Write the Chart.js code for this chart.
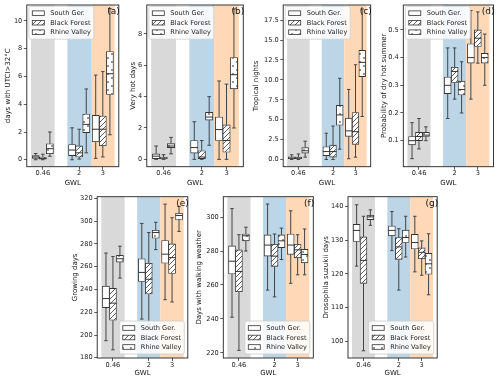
<!DOCTYPE html>
<html><head><meta charset="utf-8">
<script src="https://cdn.jsdelivr.net/npm/chart.js@4/dist/chart.umd.min.js"></script>
<style>
html,body{margin:0;padding:0;background:#fff;}
#wrap{position:relative;width:500px;height:382px;overflow:hidden;background:#fff;}
#wrap canvas{position:absolute;}
</style></head><body><div id="wrap"></div>
<script>
// ---------- data ----------
const gwl = [0.46, 2, 3];
const gwlLabels = ["0.46", "2", "3"];
const seriesNames = ["South Ger.", "Black Forest", "Rhine Valley"];
// each row: [lower whisker, Q1, median, Q3, upper whisker] at GWL 0.46, 2, 3
const utciSouth = [[0, 0.1, 0.2, 0.3, 0.45], [0, 0.3, 0.7, 1.1, 2.3], [0.1, 1.3, 2.2, 3.2, 6.1]];
const utciBlack = [[0, 0.05, 0.1, 0.2, 0.4], [0.05, 0.2, 0.5, 1.0, 2.2], [0.2, 1.0, 2.2, 3.15, 6.35]];
const utciRhine = [[0.25, 0.43, 0.8, 1.15, 2.0], [0.5, 1.95, 2.55, 3.3, 5.1], [1.8, 4.7, 6.2, 7.8, 10.9]];

const hotSouth = [[0, 0.05, 0.2, 0.35, 0.85], [0, 0.4, 0.75, 1.2, 2.4], [0, 1.2, 1.9, 2.7, 5.0]];
const hotBlack = [[0, 0.02, 0.08, 0.15, 0.3], [0, 0.05, 0.15, 0.55, 1.2], [0, 0.45, 1.2, 2.2, 4.8]];
const hotRhine = [[0.35, 0.75, 0.85, 1.0, 1.4], [0.9, 2.5, 2.7, 3.0, 4.0], [2.0, 4.5, 5.4, 6.5, 9.6]];

const tropSouth = [[0, 0.1, 0.2, 0.35, 0.6], [0, 0.5, 1.0, 1.6, 3.3], [0.1, 2.9, 3.6, 5.2, 8.8]];
const tropBlack = [[0, 0.1, 0.2, 0.3, 0.7], [0, 0.3, 1.0, 1.8, 4.2], [0.3, 1.9, 3.5, 5.9, 11.9]];
const tropRhine = [[0.3, 0.8, 1.1, 1.5, 2.3], [1.3, 4.3, 5.6, 6.8, 10.2], [5.4, 10.4, 12.2, 13.7, 18.9]];

const dryhotSouth = [[0.035, 0.085, 0.1, 0.115, 0.165], [0.18, 0.27, 0.30, 0.33, 0.435], [0.25, 0.38, 0.40, 0.45, 0.57]];
const dryhotBlack = [[0.07, 0.1, 0.115, 0.13, 0.18], [0.25, 0.31, 0.35, 0.365, 0.435], [0.38, 0.44, 0.47, 0.50, 0.565]];
const dryhotRhine = [[0.1, 0.115, 0.12, 0.13, 0.15], [0.2, 0.265, 0.285, 0.315, 0.385], [0.30, 0.38, 0.40, 0.415, 0.485]];

const growSouth = [[195, 224, 232, 243, 272], [214, 247, 255, 267, 298], [231, 263, 271, 283, 315]];
const growBlack = [[187, 213, 228, 241, 269], [209, 236, 249, 263, 290], [229, 254, 268, 280, 303]];
const growRhine = [[250, 264, 267, 270, 278], [275, 285, 290, 292, 299], [291, 301, 305, 307, 313]];

const walkSouth = [[241, 266.5, 274, 283, 305], [257, 277, 283.5, 289.5, 307.7], [261, 278, 283.5, 290, 303.7]];
const walkBlack = [[221.5, 256, 268, 280.7, 289.6], [253, 271, 277, 284, 290], [266, 276, 280.7, 284, 289.6]];
const walkRhine = [[280, 286, 289, 290, 294], [275, 282, 286, 289.5, 293.5], [266, 273, 278, 281, 293]];

const drosoSouth = [[122.3, 129.6, 132.9, 134.7, 140.5], [126.9, 131.3, 132.9, 134.2, 138.5], [120.6, 127.4, 129.3, 131.7, 137.1]];
const drosoBlack = [[97.2, 117.2, 124, 131, 137.1], [115.2, 124.3, 128, 130.8, 133.4], [119.6, 124.5, 126.4, 127.7, 129.8]];
const drosoRhine = [[134.4, 136.1, 136.9, 137.4, 139], [125, 129.3, 130.8, 133, 137.1], [113.8, 119.9, 123, 126.1, 131.9]];

const yTicksA = [0, 2, 4, 6, 8, 10];           const yLabelsA = ["0", "2", "4", "6", "8", "10"];
const yTicksB = [0, 2, 4, 6, 8];               const yLabelsB = ["0", "2", "4", "6", "8"];
const yTicksC = [0, 2.5, 5, 7.5, 10, 12.5, 15, 17.5]; const yLabelsC = ["0.0", "2.5", "5.0", "7.5", "10.0", "12.5", "15.0", "17.5"];
const yTicksD = [0.1, 0.2, 0.3, 0.4, 0.5];     const yLabelsD = ["0.1", "0.2", "0.3", "0.4", "0.5"];
const yTicksE = [180, 200, 220, 240, 260, 280, 300, 320]; const yLabelsE = ["180", "200", "220", "240", "260", "280", "300", "320"];
const yTicksF = [220, 240, 260, 280, 300];     const yLabelsF = ["220", "240", "260", "280", "300"];
const yTicksG = [100, 110, 120, 130, 140];     const yLabelsG = ["100", "110", "120", "130", "140"];

// ---------- layout / style ----------
const XMIN = -0.217, XMAX = 3.677;
const OFFS = [-0.3, 0, 0.3], BOXW = 0.3;
const bandColors = ["#d9d9d9", "#bcd6e8", "#ffd9b7"];
const FONT = '"DejaVu Sans", sans-serif';
const rows = [
  {top: 0, height: 192, padTop: 5, xAxisH: 25.3},
  {top: 190, height: 192, padTop: 6.7, xAxisH: 24}
];
const panels = [
  {lab: "(a)", title: "days with UTCI>32°C", s: [utciSouth, utciBlack, utciRhine], yMin: -0.5, yMax: 11.15, ticks: yTicksA, labels: yLabelsA, row: 0, tx: 7.5, fl: 26.3, fr: 118.3, legend: "tl"},
  {lab: "(b)", title: "Very hot days", s: [hotSouth, hotBlack, hotRhine], yMin: -0.47, yMax: 9.85, ticks: yTicksB, labels: yLabelsB, row: 0, tx: 133, fl: 146.8, fr: 243.3, legend: "tl"},
  {lab: "(c)", title: "Tropical nights", s: [tropSouth, tropBlack, tropRhine], yMin: -0.9, yMax: 19.4, ticks: yTicksC, labels: yLabelsC, row: 0, tx: 256, fl: 283.2, fr: 370.7, legend: "tl"},
  {lab: "(d)", title: "Probability of dry hot summer", s: [dryhotSouth, dryhotBlack, dryhotRhine], yMin: 0.006, yMax: 0.59, ticks: yTicksD, labels: yLabelsD, row: 0, tx: 384, fl: 403.3, fr: 493.5, legend: "tl"},
  {lab: "(e)", title: "Growing days", s: [growSouth, growBlack, growRhine], yMin: 179.8, yMax: 321.5, ticks: yTicksE, labels: yLabelsE, row: 1, tx: 74.5, fl: 96.7, fr: 187.3, legend: "br"},
  {lab: "(f)", title: "Days with walking weather", s: [walkSouth, walkBlack, walkRhine], yMin: 217, yMax: 312, ticks: yTicksF, labels: yLabelsF, row: 1, tx: 199, fl: 223.3, fr: 313.3, legend: "br"},
  {lab: "(g)", title: "Drosophila suzukii days", s: [drosoSouth, drosoBlack, drosoRhine], yMin: 95.05, yMax: 142.9, ticks: yTicksG, labels: yLabelsG, row: 1, tx: 325.5, fl: 347.5, fr: 436.7, legend: "br"}
];

// ---------- fills ----------
function hatchPattern() {
  const c = document.createElement('canvas'); c.width = 5; c.height = 5;
  const g = c.getContext('2d');
  g.fillStyle = '#fff'; g.fillRect(0, 0, 5, 5);
  g.strokeStyle = '#3a3a3a'; g.lineWidth = 0.8;
  g.beginPath();
  g.moveTo(-1, 6); g.lineTo(6, -1);
  g.moveTo(-1, 1); g.lineTo(1, -1);
  g.moveTo(4, 6); g.lineTo(6, 4);
  g.stroke();
  return g.createPattern(c, 'repeat');
}
function dotPattern() {
  const c = document.createElement('canvas'); c.width = 8; c.height = 8;
  const g = c.getContext('2d');
  g.fillStyle = '#fff'; g.fillRect(0, 0, 8, 8);
  g.fillStyle = '#111';
  g.beginPath(); g.arc(2, 2, 0.8, 0, Math.PI * 2); g.fill();
  g.beginPath(); g.arc(6, 6, 0.8, 0, Math.PI * 2); g.fill();
  return g.createPattern(c, 'repeat');
}
const fills = ['#ffffff', hatchPattern(), dotPattern()];

function roundRect(ctx, x, y, w, h, r) {
  ctx.beginPath();
  ctx.moveTo(x + r, y); ctx.lineTo(x + w - r, y); ctx.arcTo(x + w, y, x + w, y + r, r);
  ctx.lineTo(x + w, y + h - r); ctx.arcTo(x + w, y + h, x + w - r, y + h, r);
  ctx.lineTo(x + r, y + h); ctx.arcTo(x, y + h, x, y + h - r, r);
  ctx.lineTo(x, y + r); ctx.arcTo(x, y, x + r, y, r); ctx.closePath();
}

function decoPlugin(p) {
  return {
    id: 'deco',
    beforeDatasetsDraw(chart) {
      const {ctx, chartArea: a, scales: {x}} = chart;
      ctx.save();
      ctx.beginPath(); ctx.rect(a.left, a.top, a.right - a.left, a.bottom - a.top); ctx.clip();
      gwl.forEach((g, i) => {
        const x0 = x.getPixelForValue(g - 0.5), x1 = x.getPixelForValue(g + 0.5);
        ctx.fillStyle = bandColors[i];
        ctx.fillRect(x0, a.top, x1 - x0, a.bottom - a.top);
      });
      ctx.restore();
    },
    afterDatasetsDraw(chart) {
      const {ctx, chartArea: a, scales: {y}} = chart;
      ctx.save();
      ctx.beginPath(); ctx.rect(a.left, a.top, a.right - a.left, a.bottom - a.top); ctx.clip();
      chart.data.datasets.forEach((ds, di) => {
        const meta = chart.getDatasetMeta(di);
        meta.data.forEach((bar, i) => {
          const st = ds.stats[i];
          const {x: cx, width: bw} = bar.getProps(['x', 'width'], true);
          const hw = bw / 2, cw = bw / 4;
          const pl = y.getPixelForValue(st[0]), p1 = y.getPixelForValue(st[1]);
          const pm = y.getPixelForValue(st[2]), p3 = y.getPixelForValue(st[3]);
          const ph = y.getPixelForValue(st[4]);
          ctx.strokeStyle = '#444'; ctx.lineWidth = 1;
          ctx.beginPath();
          ctx.moveTo(cx, p1); ctx.lineTo(cx, pl);
          ctx.moveTo(cx, p3); ctx.lineTo(cx, ph);
          ctx.moveTo(cx - cw, pl); ctx.lineTo(cx + cw, pl);
          ctx.moveTo(cx - cw, ph); ctx.lineTo(cx + cw, ph);
          ctx.stroke();
          ctx.strokeStyle = '#333';
          ctx.beginPath(); ctx.moveTo(cx - hw, pm); ctx.lineTo(cx + hw, pm); ctx.stroke();
        });
      });
      ctx.restore();
      // frame
      ctx.save();
      ctx.strokeStyle = '#222'; ctx.lineWidth = 0.9;
      ctx.strokeRect(a.left, a.top, a.right - a.left, a.bottom - a.top);
      // legend
      const w = 65, h = 33;
      const lx = p.legend === 'tl' ? a.left + 2 : a.right - 3.5 - w;
      const ly = p.legend === 'tl' ? a.top + 1.2 : a.bottom - 4 - h;
      roundRect(ctx, lx, ly, w, h, 2);
      ctx.fillStyle = 'rgba(255,255,255,0.85)'; ctx.fill();
      ctx.strokeStyle = '#cccccc'; ctx.lineWidth = 0.8; ctx.stroke();
      ctx.font = '6.6px ' + FONT; ctx.textBaseline = 'middle'; ctx.textAlign = 'left';
      seriesNames.forEach((n, i) => {
        const cy = ly + 7 + i * 9.5;
        ctx.fillStyle = fills[i];
        ctx.fillRect(lx + 3.5, cy - 2.3, 12, 4.6);
        ctx.strokeStyle = '#333'; ctx.lineWidth = 0.8;
        ctx.strokeRect(lx + 3.5, cy - 2.3, 12, 4.6);
        ctx.fillStyle = '#222';
        ctx.fillText(n, lx + 21.5, cy + 0.3);
      });
      // panel label
      ctx.font = '9px ' + FONT; ctx.textAlign = 'right'; ctx.fillStyle = '#111';
      ctx.fillText(p.lab, a.right + 1, a.top + 6.7);
      ctx.restore();
    }
  };
}

const wrap = document.getElementById('wrap');
panels.forEach(p => {
  const r = rows[p.row];
  const cl = p.tx - 6;
  const cr = Math.min(500, p.fr + 5);
  const cw = cr - cl;
  const cv = document.createElement('canvas');
  cv.width = Math.round(cw); cv.height = r.height;
  cv.style.left = cl + 'px'; cv.style.top = r.top + 'px';
  cv.style.width = Math.round(cw) + 'px'; cv.style.height = r.height + 'px';
  wrap.appendChild(cv);
  const yAxisW = p.fl - cl;
  const padRight = Math.round(cw) - (p.fr - cl);
  const thick = (p.fr - p.fl) * BOXW / (XMAX - XMIN);
  const datasets = p.s.map((arr, si) => ({
    label: seriesNames[si],
    data: gwl.map((g, i) => ({x: g + OFFS[si], y: [arr[i][1], arr[i][3]]})),
    stats: arr,
    backgroundColor: fills[si],
    borderColor: '#333',
    borderWidth: 0.9,
    borderSkipped: false,
    barThickness: thick,
    grouped: false
  }));
  new Chart(cv, {
    type: 'bar',
    data: {datasets},
    options: {
      responsive: false, animation: false, devicePixelRatio: 1, events: [],
      layout: {padding: {top: r.padTop, right: padRight, left: 0, bottom: 0}},
      plugins: {legend: {display: false}, tooltip: {enabled: false}},
      scales: {
        x: {
          type: 'linear', min: XMIN, max: XMAX, offset: false,
          grid: {display: true, drawOnChartArea: false, drawTicks: true, tickLength: 3, color: '#333', lineWidth: 0.8, offset: false},
          border: {display: false},
          afterBuildTicks: s => { s.ticks = gwl.map(v => ({value: v})); },
          afterFit: s => { s.height = r.xAxisH; s.paddingLeft = 0; s.paddingRight = 0; },
          ticks: {autoSkip: false, maxRotation: 0, padding: 0, color: '#222', font: {family: FONT, size: 6.6},
                  callback: (v, i) => gwlLabels[i]},
          title: {display: true, text: 'GWL', color: '#111', font: {family: FONT, size: 7}, padding: {top: 0, bottom: 4.8}}
        },
        y: {
          type: 'linear', min: p.yMin, max: p.yMax, beginAtZero: false,
          grid: {display: true, drawOnChartArea: false, drawTicks: true, tickLength: 3, color: '#333', lineWidth: 0.8},
          border: {display: false},
          afterBuildTicks: s => { s.ticks = p.ticks.map(v => ({value: v})); },
          afterFit: s => { s.width = yAxisW; s.paddingTop = 0; s.paddingBottom = 0; },
          ticks: {autoSkip: false, padding: 1.5, color: '#222', font: {family: FONT, size: 6.6},
                  callback: (v, i) => p.labels[i]},
          title: {display: true, text: p.title, color: '#111', font: {family: FONT, size: 7}, padding: {top: 1.8, bottom: 0}}
        }
      }
    },
    plugins: [decoPlugin(p)]
  });
});
</script>
</body></html>
